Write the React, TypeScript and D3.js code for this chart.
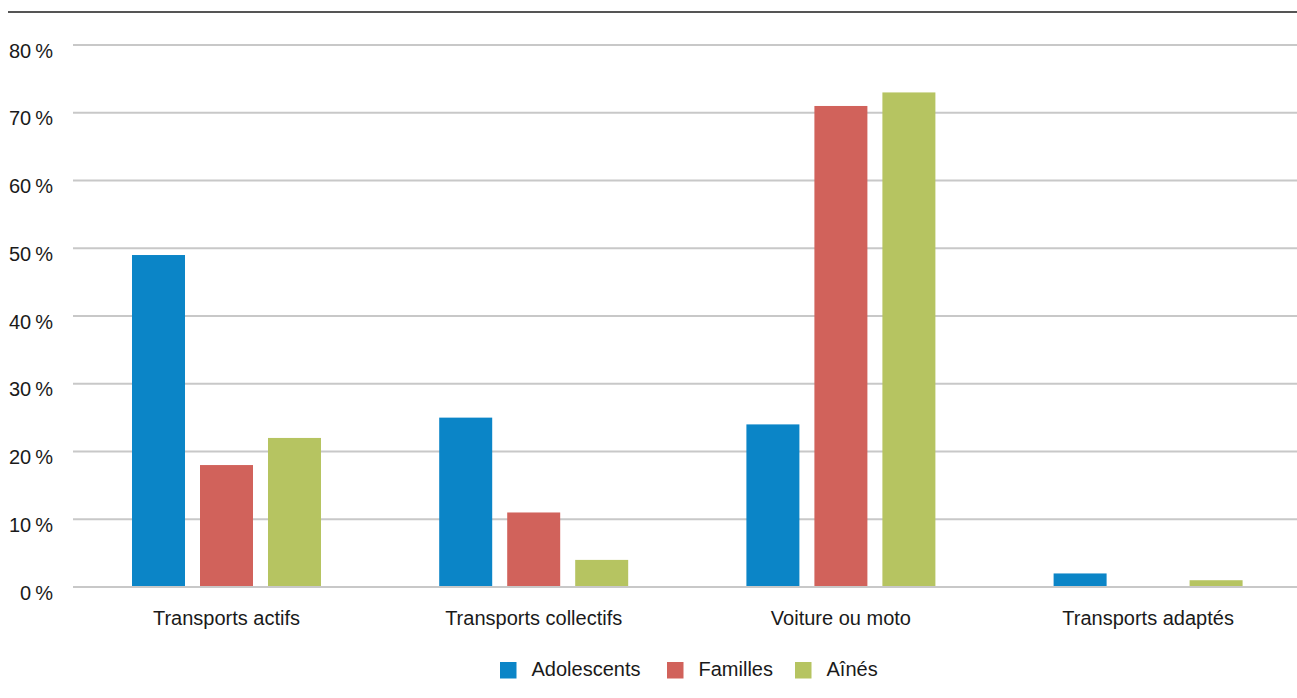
import React from "react";
import * as d3 from "d3";

const categories = ["Transports actifs", "Transports collectifs", "Voiture ou moto", "Transports adaptés"];
const seriesNames = ["Adolescents", "Familles", "Aînés"];
const adolescents = [49, 25, 24, 2];
const familles = [18, 11, 71, 0];
const aines = [22, 4, 73, 1];
const seriesValues = [adolescents, familles, aines];
const seriesColors = ["#0b85c7", "#d1625b", "#b6c461"];
const yTicks = [0, 10, 20, 30, 40, 50, 60, 70, 80];
const yTickLabels = yTicks.map((t) => `${t}\u2009%`);

const W = 1297;
const H = 698;
const FONT = "'Liberation Sans', Arial, sans-serif";

export default function App() {
  const y = d3.scaleLinear().domain([0, 80]).range([587, 45]);
  const x0 = d3
    .scaleBand<string>()
    .domain(categories)
    .range([72.9, 1301.7])
    .paddingInner(0.3848)
    .paddingOuter(0.3848 / 2);
  const x1 = d3
    .scaleBand<string>()
    .domain(seriesNames)
    .range([0, x0.bandwidth()])
    .paddingInner(15 / 68)
    .paddingOuter(0);

  const legendX = [500, 667, 795];

  return (
    <svg
      width={W}
      height={H}
      style={{ position: "absolute", left: 0, top: 0, background: "#fff" }}
      fontFamily={FONT}
    >
      <line x1={8} x2={W} y1={12} y2={12} stroke="#555" strokeWidth={2} />
      {yTicks.map((t, i) => (
        <g key={t}>
          <line x1={73} x2={W} y1={y(t)} y2={y(t)} stroke="#c8c8c8" strokeWidth={2} />
          <text x={53} y={y(t) + 12.5} textAnchor="end" fontSize={20} fill="#1a1a1a">
            {yTickLabels[i]}
          </text>
        </g>
      ))}
      {categories.map((c, ci) => (
        <g key={c} transform={`translate(${x0(c)},0)`}>
          {seriesNames.map((s, si) => {
            const v = seriesValues[si][ci];
            if (v <= 0) return null;
            return (
              <rect
                key={s}
                x={x1(s)}
                y={y(v)}
                width={x1.bandwidth()}
                height={y(0) - y(v) - 1}
                fill={seriesColors[si]}
              />
            );
          })}
          <text
            x={x0.bandwidth() / 2}
            y={625}
            textAnchor="middle"
            fontSize={20}
            fill="#1a1a1a"
          >
            {c}
          </text>
        </g>
      ))}
      {seriesNames.map((s, si) => (
        <g key={s} transform={`translate(${legendX[si]},0)`}>
          <rect x={0} y={662} width={16.5} height={16.5} fill={seriesColors[si]} />
          <text x={31.5} y={676} fontSize={20} fill="#1a1a1a">
            {s}
          </text>
        </g>
      ))}
    </svg>
  );
}
